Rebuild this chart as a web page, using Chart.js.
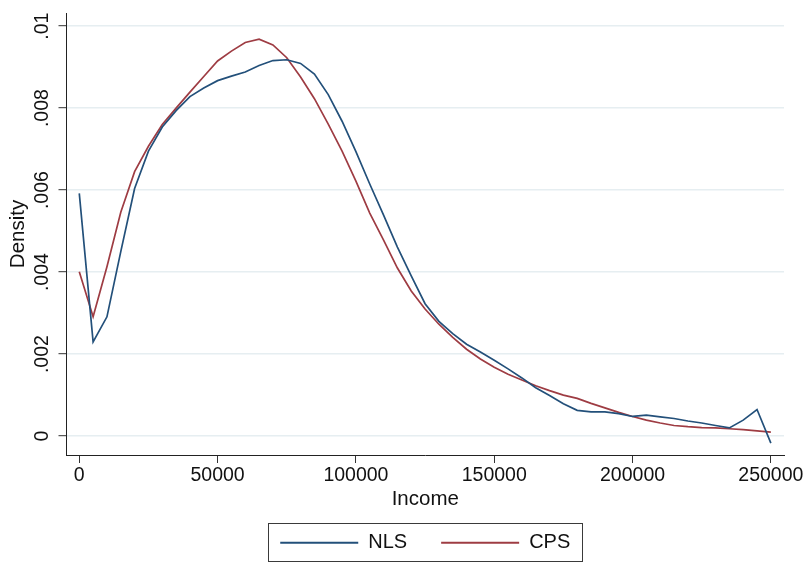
<!DOCTYPE html>
<html>
<head>
<meta charset="utf-8">
<script src="https://cdn.jsdelivr.net/npm/chart.js@4/dist/chart.umd.min.js"></script>
<style>
  html, body { margin: 0; padding: 0; background: #ffffff; }
  canvas { display: block; }
</style>
</head>
<body>
<canvas id="c" width="809" height="577"></canvas>
<script>
// ---- data ----
const income = [0, 5000, 10000, 15000, 20000, 25000, 30000, 35000, 40000, 45000,
  50000, 55000, 60000, 65000, 70000, 75000, 80000, 85000, 90000, 95000,
  100000, 105000, 110000, 115000, 120000, 125000, 130000, 135000, 140000, 145000,
  150000, 155000, 160000, 165000, 170000, 175000, 180000, 185000, 190000, 195000,
  200000, 205000, 210000, 215000, 220000, 225000, 230000, 235000, 240000, 245000,
  250000];
const nls = [0.00592, 0.00230, 0.00291, 0.00450, 0.00604, 0.00695, 0.00754, 0.00794, 0.00828, 0.00849,
  0.00867, 0.00878, 0.00888, 0.00904, 0.00916, 0.00918, 0.00909, 0.00883, 0.00833, 0.00768,
  0.00694, 0.00615, 0.00539, 0.00461, 0.00391, 0.00323, 0.00280, 0.00250, 0.00224, 0.00205,
  0.00185, 0.00164, 0.00142, 0.00118, 0.00099, 0.00079, 0.00063, 0.00059, 0.00059, 0.00055,
  0.00048, 0.00051, 0.00047, 0.00043, 0.00037, 0.00032, 0.00026, 0.00020, 0.00039, 0.00065,
  -0.00017];
const cps = [0.00401, 0.00291, 0.00413, 0.00546, 0.00645, 0.00707, 0.00760, 0.00800, 0.00839, 0.00877,
  0.00915, 0.00939, 0.00960, 0.00968, 0.00954, 0.00923, 0.00876, 0.00823, 0.00761, 0.00695,
  0.00622, 0.00544, 0.00478, 0.00410, 0.00354, 0.00310, 0.00273, 0.00241, 0.00212, 0.00188,
  0.00168, 0.00151, 0.00137, 0.00123, 0.00111, 0.00100, 0.00092, 0.00080, 0.00069, 0.00058,
  0.00048, 0.00039, 0.00032, 0.00026, 0.00023, 0.00021, 0.00020, 0.00018, 0.00016, 0.00013,
  0.00010];
const seriesNames = ['NLS', 'CPS'];
const xTickValues = [0, 50000, 100000, 150000, 200000, 250000];
const xTickLabels = ['0', '50000', '100000', '150000', '200000', '250000'];
const yTickValues = [0, 0.002, 0.004, 0.006, 0.008, 0.01];
const yTickLabels = ['0', '.002', '.004', '.006', '.008', '.01'];
const xTitle = 'Income';
const yTitle = 'Density';

// ---- styles ----
const colors = ['#23507a', '#9e3c43'];
const FONT = "'Liberation Sans', Arial, sans-serif";

const legendBoxPlugin = {
  id: 'legendBox',
  afterDraw(chart) {
    const lg = chart.legend;
    if (!lg || !lg.legendHitBoxes || !lg.legendHitBoxes.length) return;
    const hb = lg.legendHitBoxes;
    const first = hb[0], last = hb[hb.length - 1];
    const left = first.left - 12;
    const right = last.left + last.width + 11.6;
    const top = first.top - 9.4;
    const bottom = first.top + first.height + 8.3;
    const ctx = chart.ctx;
    ctx.save();
    ctx.strokeStyle = '#3a3a3a';
    ctx.lineWidth = 1;
    ctx.strokeRect(Math.round(left) + 0.5, Math.round(top) + 0.5, Math.round(right - left), Math.round(bottom - top));
    ctx.restore();
  }
};

new Chart(document.getElementById('c'), {
  type: 'line',
  data: {
    datasets: [
      { label: seriesNames[0], data: income.map((x, i) => ({ x: x, y: nls[i] })),
        borderColor: colors[0], backgroundColor: colors[0], borderWidth: 1.7,
        pointRadius: 0, tension: 0, fill: false },
      { label: seriesNames[1], data: income.map((x, i) => ({ x: x, y: cps[i] })),
        borderColor: colors[1], backgroundColor: colors[1], borderWidth: 1.7,
        pointRadius: 0, tension: 0, fill: false }
    ]
  },
  options: {
    responsive: false,
    animation: false,
    events: [],
    layout: { padding: { left: 0, right: 25, top: 13, bottom: 14.3 } },
    scales: {
      x: {
        type: 'linear',
        min: -4620,
        max: 254750,
        afterBuildTicks: (s) => { s.ticks = xTickValues.map(v => ({ value: v })); },
        afterFit: (s) => { s.height = 43.7; },
        ticks: {
          color: '#111',
          font: { family: FONT, size: 19.5 },
          padding: 1.3,
          maxRotation: 0,
          autoSkip: false,
          callback: (v) => { const i = xTickValues.indexOf(v); return i >= 0 ? xTickLabels[i] : ''; }
        },
        grid: { display: true, drawOnChartArea: false, tickLength: 8, tickColor: '#333', tickWidth: 1 },
        border: { display: true, color: '#222', width: 1 },
        title: { display: true, text: xTitle, color: '#111',
          font: { family: FONT, size: 20.5 }, padding: { top: 0, bottom: -12.6 } }
      },
      y: {
        type: 'linear',
        min: -0.00046,
        max: 0.01032,
        afterBuildTicks: (s) => { s.ticks = yTickValues.map(v => ({ value: v })); },
        afterFit: (s) => { s.width = 66.5; },
        ticks: {
          color: '#111',
          font: { family: FONT, size: 19.5 },
          minRotation: 90,
          maxRotation: 90,
          crossAlign: 'center',
          padding: -2.7,
          autoSkip: false,
          callback: (v) => { const i = yTickValues.findIndex(t => Math.abs(t - v) < 1e-9); return i >= 0 ? yTickLabels[i] : ''; }
        },
        grid: { display: true, drawOnChartArea: true, color: '#e6eef1', lineWidth: 1.4,
          tickLength: 8, tickColor: '#333', tickWidth: 1 },
        border: { display: true, color: '#222', width: 1 },
        title: { display: true, text: yTitle, color: '#111',
          font: { family: FONT, size: 20.5 }, padding: { top: 5.7, bottom: 0 } }
      }
    },
    plugins: {
      tooltip: { enabled: false },
      legend: {
        display: true,
        position: 'bottom',
        fullSize: false,
        labels: {
          color: '#111',
          font: { family: FONT, size: 20 },
          boxWidth: 78,
          boxHeight: 2,
          padding: 34,
          generateLabels: (chart) => chart.data.datasets.map((d, i) => ({
            text: d.label, fillStyle: colors[i], strokeStyle: colors[i], lineWidth: 0,
            hidden: false, datasetIndex: i, fontColor: '#111'
          }))
        }
      }
    }
  },
  plugins: [legendBoxPlugin]
});
</script>
</body>
</html>
